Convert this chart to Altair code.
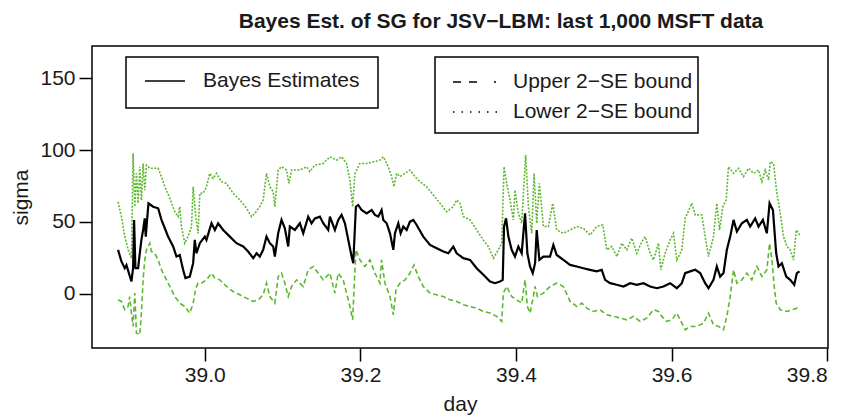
import altair as alt
import pandas as pd

# ---- Bayes estimate (black solid) ----
bayes_day = [38.8885, 38.8928, 38.8971, 38.8993, 38.9057, 38.9078, 38.9091, 38.9108, 38.9143,
             38.9164, 38.9185, 38.9207, 38.9228, 38.9241, 38.9258, 38.9276, 38.9336, 38.9400,
             38.9443, 38.9486, 38.9528, 38.9593, 38.9636, 38.9678, 38.9721, 38.9751, 38.9807,
             38.9850, 38.9871, 38.9893, 38.9936, 39.0000, 39.0021, 39.0086, 39.0129, 39.0171,
             39.0236, 39.0322, 39.0407, 39.0493, 39.0557, 39.0622, 39.0665, 39.0707, 39.0750,
             39.0793, 39.0836, 39.0879, 39.0900, 39.0943, 39.0986, 39.1029, 39.1072, 39.1093,
             39.1158, 39.1222, 39.1265, 39.1329, 39.1372, 39.1415, 39.1479, 39.1522, 39.1586,
             39.1608, 39.1672, 39.1715, 39.1758, 39.1801, 39.1844, 39.1887, 39.1908, 39.1942,
             39.1972, 39.2015, 39.2080, 39.2144, 39.2187, 39.2230, 39.2272, 39.2294, 39.2337,
             39.2380, 39.2423, 39.2444, 39.2487, 39.2517, 39.2551, 39.2594, 39.2637, 39.2680,
             39.2723, 39.2808, 39.2894, 39.2980, 39.3066, 39.3130, 39.3194, 39.3237, 39.3323,
             39.3409, 39.3494, 39.3580, 39.3666, 39.3730, 39.3794, 39.3829, 39.3846, 39.3872,
             39.3902, 39.3944, 39.3987, 39.4030, 39.4073, 39.4116, 39.4146, 39.4180, 39.4215,
             39.4245, 39.4266, 39.4300, 39.4352, 39.4437, 39.4480, 39.4523, 39.4609,
             39.4695, 39.4781, 39.4866, 39.4952, 39.5038, 39.5102, 39.5145, 39.5209, 39.5295,
             39.5381, 39.5467, 39.5552, 39.5638, 39.5724, 39.5810, 39.5895, 39.5981, 39.6067,
             39.6131, 39.6174, 39.6238, 39.6303, 39.6367, 39.6431, 39.6474, 39.6538, 39.6581,
             39.6624, 39.6667, 39.6710, 39.6753, 39.6796, 39.6839, 39.6903, 39.6967, 39.7010,
             39.7074, 39.7117, 39.7173, 39.7224, 39.7259, 39.7302, 39.7344, 39.7374, 39.7417,
             39.7473, 39.7524, 39.7576, 39.7610, 39.7644]
bayes_val = [30.6, 22.5, 17.8, 20.0, 8.6, 17.8, 51.4, 17.8, 17.8,
             28.2, 37.5, 44.4, 52.5, 39.8, 51.4, 63.0, 60.6, 59.5,
             51.4, 45.6, 39.8, 32.9, 25.9, 27.0, 16.7, 10.9, 12.0,
             21.3, 37.5, 28.2, 35.2, 39.8, 37.5, 49.1, 44.4, 49.1,
             44.4, 39.8, 35.2, 32.9, 29.4, 24.8, 28.2, 25.9, 30.6,
             39.8, 35.2, 32.9, 25.9, 42.1, 51.4, 45.6, 32.9, 46.8,
             44.4, 49.1, 42.1, 53.7, 49.1, 52.5, 53.7, 49.1, 44.4,
             53.7, 44.4, 51.4, 54.9, 49.1, 37.5, 25.9, 21.3, 60.6,
             61.8, 58.3, 56.0, 58.3, 54.9, 53.7, 58.3, 51.4, 49.1,
             42.1, 30.6, 42.1, 49.1, 42.1, 46.8, 44.4, 50.2, 51.4,
             47.9, 39.8, 34.0, 31.7, 29.4, 28.2, 32.9, 28.2, 24.8,
             23.6, 17.8, 13.2, 8.6, 7.4, 8.6, 9.7, 46.8, 52.5,
             39.8, 30.6, 25.9, 32.9, 28.2, 56.0, 28.2, 19.0, 14.4,
             21.3, 44.4, 23.6, 25.9, 25.9, 34.0, 27.0, 23.6,
             20.1, 19.0, 17.8, 16.7, 15.6, 16.7, 9.7, 7.4, 6.3,
             5.1, 7.4, 6.3, 7.4, 5.1, 3.9, 5.1, 7.4, 3.9,
             7.4, 14.4, 15.6, 16.7, 14.4, 7.4, 3.9, 9.7, 19.0,
             12.0, 14.4, 30.6, 39.8, 51.4, 43.3, 49.1, 51.4, 46.8,
             52.5, 46.8, 51.4, 42.1, 63.0, 58.3, 28.2, 19.0, 21.3,
             12.0, 9.7, 6.3, 14.4, 15.6]

# ---- Upper 2-SE bound (green, fine dotted in the picture) ----
upper_day = [38.8885, 38.8928, 38.8971, 38.9014, 38.9057, 38.9078, 38.9100, 38.9121, 38.9143,
             38.9164, 38.9185, 38.9207, 38.9228, 38.9250, 38.9293, 38.9400, 38.9443, 38.9486,
             38.9550, 38.9614, 38.9657, 38.9678, 38.9700, 38.9743, 38.9786, 38.9829, 38.9850,
             38.9884, 38.9914, 38.9936, 38.9979, 39.0021, 39.0064, 39.0107, 39.0150, 39.0214,
             39.0279, 39.0364, 39.0450, 39.0536, 39.0600, 39.0643, 39.0707, 39.0750, 39.0793,
             39.0836, 39.0879, 39.0900, 39.0943, 39.0986, 39.1050, 39.1080, 39.1115, 39.1222,
             39.1308, 39.1350, 39.1415, 39.1522,
             39.1608, 39.1694, 39.1758, 39.1822, 39.1865, 39.1900, 39.1930, 39.1994, 39.2080,
             39.2165, 39.2251, 39.2294, 39.2358, 39.2401, 39.2431, 39.2465, 39.2508, 39.2573,
             39.2637, 39.2701, 39.2765, 39.2851, 39.2937, 39.3023, 39.3108, 39.3194, 39.3237,
             39.3280, 39.3323, 39.3409, 39.3494, 39.3580, 39.3644, 39.3709, 39.3773, 39.3816,
             39.3846, 39.3880, 39.3923, 39.3966, 39.3987, 39.4030, 39.4073, 39.4124, 39.4159,
             39.4202, 39.4232, 39.4266, 39.4300, 39.4352, 39.4416, 39.4472, 39.4523, 39.4609,
             39.4695, 39.4781, 39.4866, 39.4952, 39.5038, 39.5115, 39.5167, 39.5231, 39.5295,
             39.5359, 39.5424, 39.5488, 39.5552, 39.5617, 39.5660, 39.5724, 39.5767, 39.5831,
             39.5861, 39.5917, 39.5981, 39.6024, 39.6067, 39.6131, 39.6174, 39.6260, 39.6303,
             39.6388, 39.6431, 39.6474, 39.6538, 39.6581, 39.6616, 39.6658, 39.6701, 39.6731,
             39.6796, 39.6860, 39.6924, 39.6989, 39.7053, 39.7117, 39.7160, 39.7203, 39.7246,
             39.7267, 39.7310, 39.7353, 39.7396, 39.7439, 39.7482, 39.7524, 39.7567, 39.7602,
             39.7644]
upper_val = [64.0, 53.7, 40.0, 30.6, 24.8, 97.7, 60.6, 83.8, 63.0,
             88.4, 65.0, 90.7, 72.0, 89.5, 87.3, 87.3, 81.5, 74.5,
             66.4, 57.1, 53.7, 60.6, 46.8, 35.2, 40.0, 46.8, 74.5,
             53.7, 42.1, 69.9, 69.9, 74.5, 83.8, 80.3, 83.8, 78.0,
             76.8, 69.9, 65.3, 59.5, 53.7, 56.0, 60.6, 65.3, 83.8,
             74.5, 71.0, 60.6, 86.1, 88.4, 86.1, 76.8, 86.1, 86.1,
             88.4, 85.0, 89.5, 90.7,
             95.3, 93.0, 95.3, 90.7, 79.2, 60.6, 83.8, 90.7, 90.7,
             91.8, 93.0, 95.3, 88.4, 81.5, 74.5, 83.8, 81.5, 83.8,
             86.1, 81.5, 78.0, 74.5, 68.8, 63.0, 57.1, 60.6, 65.3,
             63.0, 53.7, 51.4, 44.4, 37.5, 32.9, 24.8, 30.6, 35.2,
             88.4, 76.8, 65.3, 51.4, 72.2, 56.0, 49.1, 96.5, 60.6,
             42.1, 83.8, 49.1, 76.8, 46.8, 46.8, 63.0, 44.4, 42.1,
             44.4, 46.8, 45.6, 40.9, 46.8, 47.9, 30.6, 32.9, 25.9,
             35.2, 30.6, 38.7, 28.2, 36.3, 39.8, 28.2, 23.6, 35.2,
             16.7, 28.2, 37.5, 42.1, 23.6, 30.6, 52.5, 63.0, 54.9,
             54.9, 39.8, 25.9, 39.8, 63.0, 44.4, 60.6, 65.3, 88.4,
             83.8, 87.3, 81.5, 87.3, 83.8, 86.1, 78.0, 86.1, 79.2,
             91.8, 90.7, 69.9, 56.4, 39.8, 32.9, 30.6, 23.6, 44.4,
             40.9]

# ---- Lower 2-SE bound (green, dashed in the picture) ----
lower_day = [38.8885, 38.8928, 38.8971, 38.9014, 38.9035, 38.9057, 38.9078, 38.9100, 38.9121,
             38.9164, 38.9185, 38.9207, 38.9228, 38.9250, 38.9293, 38.9314, 38.9357, 38.9400,
             38.9443, 38.9486, 38.9550, 38.9614, 38.9678, 38.9743, 38.9807, 38.9850, 38.9884,
             38.9914, 38.9957, 39.0021, 39.0086, 39.0129, 39.0193, 39.0279, 39.0364, 39.0450,
             39.0536, 39.0622, 39.0686, 39.0750, 39.0793, 39.0836, 39.0900, 39.0943, 39.0986,
             39.1029, 39.1072, 39.1115, 39.1179, 39.1265, 39.1329, 39.1393, 39.1458, 39.1522,
             39.1608, 39.1672, 39.1715, 39.1779, 39.1822, 39.1865, 39.1900, 39.1942, 39.1994,
             39.2058, 39.2122, 39.2187, 39.2251, 39.2272, 39.2315, 39.2380, 39.2423, 39.2457,
             39.2508, 39.2573, 39.2637, 39.2688, 39.2744, 39.2808, 39.2894, 39.2980, 39.3066,
             39.3151, 39.3237, 39.3323, 39.3409, 39.3494, 39.3580, 39.3666, 39.3752, 39.3816,
             39.3837, 39.3880, 39.3944, 39.4009, 39.4073, 39.4116, 39.4146, 39.4180, 39.4215,
             39.4245, 39.4275, 39.4352, 39.4437, 39.4523, 39.4609,
             39.4695, 39.4781, 39.4845, 39.4909, 39.4995, 39.5081, 39.5167, 39.5252, 39.5338,
             39.5424, 39.5510, 39.5595, 39.5681, 39.5767, 39.5831, 39.5874, 39.5938, 39.6003,
             39.6067, 39.6110, 39.6174, 39.6238, 39.6324, 39.6410, 39.6474, 39.6538, 39.6603,
             39.6667, 39.6710, 39.6753, 39.6796, 39.6839, 39.6903, 39.6967, 39.7031, 39.7096,
             39.7160, 39.7224, 39.7259, 39.7289, 39.7319, 39.7344, 39.7396, 39.7482, 39.7546,
             39.7610, 39.7644]
lower_val = [-4.2, -5.3, -11.0, -8.8, -1.9, -13.4, -22.7, 0.5, -27.3,
             -28.5, -13.4, 9.7, 23.6, 30.6, 35.2, 29.4, 28.2, 23.6,
             16.7, 12.0, 5.1, -1.9, -6.5, -8.8, -13.4, -6.5, 3.9,
             7.4, 7.4, 9.7, 14.4, 10.9, 9.7, 5.1, 1.6, -0.7,
             -3.0, -5.3, -4.2, -0.7, 7.4, -1.9, -6.5, 12.0, 14.4,
             7.4, -1.9, 5.1, 9.7, 5.1, 16.7, 19.0, 14.4, 9.7,
             14.4, 0.5, 14.4, 9.7, 0.5, -8.8, -18.1, 30.6, 23.6,
             19.0, 23.6, 14.4, 7.4, 23.6, 7.4, -1.9, -14.6, 2.8,
             7.4, 9.7, 14.4, 20.1, 12.0, 5.1, 0.5, -0.7, -1.9,
             -4.2, -5.3, -7.6, -8.8, -10.0, -12.3, -13.4, -15.7, -19.2,
             0.5, 5.1, -1.9, -4.2, -6.5, 9.7, -8.8, -13.4, -4.2,
             5.1, -1.9, 0.5, 5.1, 7.4, 5.1,
             -5.3, -8.8, -6.5, -10.0, -12.3, -11.1, -14.6, -15.7, -16.9,
             -18.1, -15.7, -19.2, -16.9, -11.1, -12.3, -15.7, -19.2, -18.1,
             -13.4, -18.1, -25.0, -22.7, -22.7, -20.4, -13.4, -21.5, -22.7,
             -25.0, -15.7, -1.9, 16.7, 7.4, 9.7, 14.4, 9.7, 19.0,
             12.0, 16.7, 35.2, 23.6, 5.1, -6.5, -11.1, -12.3, -11.1,
             -10.0, -11.1]

x_ticks = [39.0, 39.2, 39.4, 39.6, 39.8]
y_ticks = [0, 50, 100, 150]

GREEN = "#5cb82e"
FONT = "Liberation Sans"
TXT = "#1a1a1a"
FS = 21

bayes_df = pd.DataFrame({"day": bayes_day, "sigma": bayes_val})
upper_df = pd.DataFrame({"day": upper_day, "sigma": upper_val})
lower_df = pd.DataFrame({"day": lower_day, "sigma": lower_val})

xscale = alt.Scale(domain=[38.855, 39.801], nice=False, zero=False)
yscale = alt.Scale(domain=[-37.7, 172.4], nice=False, zero=False)

xenc = alt.X("day:Q", scale=xscale, title="day",
             axis=alt.Axis(values=x_ticks, format=".1f", grid=False, domain=False,
                           tickSize=13, tickColor="black", tickWidth=1.5,
                           labelPadding=3, titlePadding=8,
                           labelFont=FONT, labelFontSize=FS, labelColor=TXT,
                           titleFont=FONT, titleFontSize=FS, titleFontWeight="normal",
                           titleColor=TXT))
yenc = alt.Y("sigma:Q", scale=yscale, title="sigma",
             axis=alt.Axis(values=y_ticks, grid=False, domain=False,
                           tickSize=13, tickColor="black", tickWidth=1.5,
                           labelPadding=4, titlePadding=8,
                           labelFont=FONT, labelFontSize=FS, labelColor=TXT,
                           titleFont=FONT, titleFontSize=FS, titleFontWeight="normal",
                           titleColor=TXT))

upper = alt.Chart(upper_df).mark_line(color=GREEN, strokeWidth=1.6,
                                      strokeDash=[2, 1.5]).encode(x=xenc, y=yenc, order="day:Q")
lower = alt.Chart(lower_df).mark_line(color=GREEN, strokeWidth=1.6,
                                      strokeDash=[5, 3]).encode(x=xenc, y=yenc, order="day:Q")
bayes = alt.Chart(bayes_df).mark_line(color="black", strokeWidth=2.2).encode(
    x=xenc, y=yenc, order="day:Q")

one = pd.DataFrame({"k": [0]})

# legend 1
box1 = alt.Chart(one).mark_rect(fill="white", stroke="black", strokeWidth=1.5).encode(
    x=alt.value(34), x2=alt.value(286), y=alt.value(11), y2=alt.value(62))
sym1 = alt.Chart(one).mark_rule(color="black", strokeWidth=1.5).encode(
    x=alt.value(53), x2=alt.value(93), y=alt.value(35))
txt1 = alt.Chart(one).mark_text(align="left", baseline="middle", font=FONT, fontSize=FS,
                                color=TXT).encode(
    x=alt.value(111), y=alt.value(35), text=alt.value("Bayes Estimates"))

# legend 2
box2 = alt.Chart(one).mark_rect(fill="white", stroke="black", strokeWidth=1.5).encode(
    x=alt.value(343), x2=alt.value(606), y=alt.value(11), y2=alt.value(87))
sym2 = alt.Chart(one).mark_rule(color="black", strokeWidth=1.5,
                                strokeDash=[8, 8, 8, 17, 2, 30]).encode(
    x=alt.value(361), x2=alt.value(406), y=alt.value(36))
sym3 = alt.Chart(one).mark_rule(color="black", strokeWidth=1.5, strokeDash=[1.5, 7]).encode(
    x=alt.value(361), x2=alt.value(406), y=alt.value(66))
txt2 = alt.Chart(one).mark_text(align="left", baseline="middle", font=FONT, fontSize=FS,
                                color=TXT).encode(
    x=alt.value(421), y=alt.value(36), text=alt.value("Upper 2\u2212SE bound"))
txt3 = alt.Chart(one).mark_text(align="left", baseline="middle", font=FONT, fontSize=FS,
                                color=TXT).encode(
    x=alt.value(421), y=alt.value(66), text=alt.value("Lower 2\u2212SE bound"))

chart = alt.layer(upper, lower, bayes, box1, sym1, txt1, box2, sym2, sym3, txt2, txt3).properties(
    width=736, height=302,
    background="white",
    title=alt.TitleParams("Bayes Est. of SG for JSV\u2212LBM: last 1,000 MSFT data",
                          font=FONT, fontSize=21, fontWeight="bold", color=TXT,
                          anchor="middle", offset=14, dx=41),
    autosize=alt.AutoSizeParams(type="none"),
    padding={"left": 84, "top": 38, "right": 10, "bottom": 70},
).configure_view(stroke="black", strokeWidth=1.5)

chart.save("out.html", embed_options={"renderer": "svg", "actions": False})
